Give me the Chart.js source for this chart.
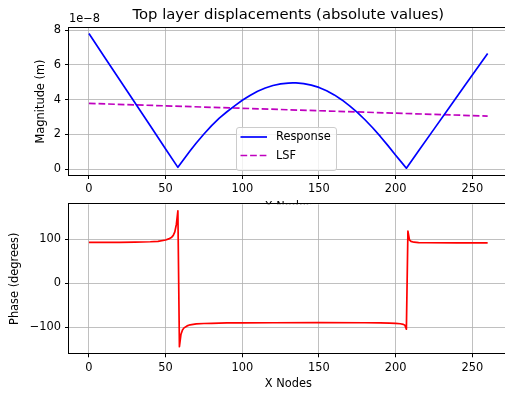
<!DOCTYPE html>
<html>
<head>
<meta charset="utf-8">
<script src="https://cdn.jsdelivr.net/npm/chart.js@4.4.1/dist/chart.umd.min.js"></script>
<style>
  html, body { margin: 0; padding: 0; background: #fff; }
  #wrap { position: relative; width: 505px; height: 394px; overflow: hidden; }
  #wrap canvas { position: absolute; left: 0; top: 0; }
</style>
</head>
<body>
<div id="wrap">
  <canvas id="magnitude-chart" width="512" height="394"></canvas>
  <canvas id="phase-chart" width="512" height="394"></canvas>
</div>
<script>
// Top layer response along the X nodes
const responseNodes = [0, 10, 20, 30, 40, 50, 58, 62, 66, 70, 75, 80, 85, 90, 95, 100,
  105, 110, 115, 120, 125, 130, 133, 135, 140, 145, 150, 155, 160, 165, 170, 175, 180,
  185, 190, 195, 200, 204, 207, 215, 225, 235, 245, 255, 260];
// magnitude in units of 1e-8 m
const responseMag = [7.80, 6.47, 5.14, 3.82, 2.49, 1.16, 0.10, 0.58, 1.05, 1.50, 2.02,
  2.50, 2.93, 3.30, 3.64, 3.96, 4.24, 4.48, 4.67, 4.81, 4.90, 4.95, 4.96, 4.96, 4.92,
  4.83, 4.70, 4.51, 4.27, 3.98, 3.64, 3.26, 2.84, 2.38, 1.88, 1.35, 0.80, 0.37, 0.05,
  1.05, 2.30, 3.55, 4.80, 6.03, 6.65];
const lsfNodes = [0, 260];
const lsfMag = [3.78, 3.05];

const phaseNodes = [0, 10, 20, 30, 40, 45, 50, 52, 54, 55, 56, 57, 58, 59, 60, 61, 62,
  64, 66, 70, 75, 80, 90, 100, 120, 150, 180, 190, 196, 200, 203, 205, 206, 207, 208,
  209, 210, 212, 215, 220, 240, 260];
const phaseDeg = [93.0, 93.1, 93.3, 93.7, 94.5, 95.4, 98.5, 101, 105, 109, 117, 134,
  165, -145, -117, -107, -102, -97.5, -95, -93, -92, -91.5, -90.8, -90.5, -90.3, -90.2,
  -90.3, -90.6, -91, -91.6, -92.6, -94, -96, -105, 119, 99, 95.5, 93.5, 92.6, 92.3,
  92.1, 92.0];

const xTicks = [0, 50, 100, 150, 200, 250];
const magTicks = [0, 2, 4, 6, 8];
const phaseTicks = [-100, 0, 100];

const FONT = 'DejaVu Sans';
const TICK_SIZE = 11.4;
const W = 512, H = 394;
const PAD_RIGHT = W - 507.6;

function toPoints(xs, ys) {
    return xs.map((x, i) => ({ x, y: ys[i] }));
}

function minusSign(v) {
    return String(v).replace('-', '\u2212');
}

function tickFont() {
    return { family: FONT, size: TICK_SIZE };
}

function gridStyle() {
    return { color: '#b0b0b0', lineWidth: 0.8, tickColor: '#000', tickLength: 4, tickWidth: 1 };
}

function xScale(height) {
    return {
        type: 'linear',
        min: -13,
        max: 273,
        afterBuildTicks: s => { s.ticks = xTicks.map(value => ({ value })); },
        afterFit: s => { s.height = height; },
        ticks: { font: tickFont(), color: '#000', padding: 3.5, maxRotation: 0, autoSkip: false },
        grid: gridStyle(),
        border: { display: false }
    };
}

function yScale(min, max, tickValues) {
    return {
        type: 'linear',
        min,
        max,
        afterBuildTicks: s => { s.ticks = tickValues.map(value => ({ value })); },
        afterFit: s => { s.width = 69; },
        ticks: { font: tickFont(), color: '#000', padding: 4, callback: minusSign },
        grid: gridStyle(),
        border: { display: false }
    };
}

// spines, labels and the legend box, matplotlib style
const framePlugin = {
    id: 'frame',
    beforeDraw(chart, args, opts) {
        if (!opts.fill) return;
        const a = chart.chartArea;
        const ctx = chart.ctx;
        ctx.save();
        ctx.fillStyle = '#fff';
        ctx.fillRect(a.left, a.top, a.right - a.left, a.bottom - a.top);
        ctx.restore();
    },
    afterDatasetsDraw(chart, args, opts) {
        const a = chart.chartArea;
        const ctx = chart.ctx;
        ctx.save();
        ctx.strokeStyle = '#000';
        ctx.lineWidth = 1;
        ctx.strokeRect(Math.round(a.left) - 0.5, Math.round(a.top) - 0.5,
            Math.round(a.right - a.left) + 1, Math.round(a.bottom - a.top) + 1);

        if (opts.legend) {
            const lg = opts.legend;
            ctx.beginPath();
            ctx.roundRect(lg.x + 0.5, lg.y + 0.5, lg.w, lg.h, 2.5);
            ctx.fillStyle = 'rgba(255,255,255,0.8)';
            ctx.fill();
            ctx.strokeStyle = '#cccccc';
            ctx.lineWidth = 1;
            ctx.stroke();

            ctx.font = TICK_SIZE + 'px "' + FONT + '"';
            ctx.textBaseline = 'middle';
            ctx.textAlign = 'left';
            chart.data.datasets.forEach((ds, i) => {
                const cy = lg.y + lg.rowTop + i * lg.rowGap;
                ctx.beginPath();
                ctx.setLineDash(ds.borderDash || []);
                ctx.strokeStyle = ds.borderColor;
                ctx.lineWidth = ds.borderWidth;
                ctx.moveTo(lg.x + 4.5, cy);
                ctx.lineTo(lg.x + 31, cy);
                ctx.stroke();
                ctx.setLineDash([]);
                ctx.fillStyle = '#000';
                ctx.fillText(ds.label, lg.x + 40, cy + 0.5);
            });
        }
        ctx.restore();
    },
    afterDraw(chart, args, opts) {
        const ctx = chart.ctx;
        (opts.texts || []).forEach(t => {
            ctx.save();
            ctx.font = t.size + 'px "' + FONT + '"';
            ctx.fillStyle = '#000';
            ctx.textAlign = t.align || 'center';
            ctx.textBaseline = 'alphabetic';
            ctx.translate(t.x, t.y);
            if (t.rotate) ctx.rotate(-Math.PI / 2);
            ctx.fillText(t.text, 0, 0);
            ctx.restore();
        });
    }
};

Chart.defaults.font.family = FONT;
Chart.defaults.color = '#000';

const centerX = (69 + 507.6) / 2;

new Chart(document.getElementById('magnitude-chart'), {
    type: 'line',
    data: {
        datasets: [{
            label: 'Response',
            data: toPoints(responseNodes, responseMag),
            borderColor: '#0000ff',
            borderWidth: 1.7,
            pointRadius: 0,
            tension: 0,
            borderJoinStyle: 'round'
        }, {
            label: 'LSF',
            data: toPoints(lsfNodes, lsfMag),
            borderColor: '#bf00bf',
            borderWidth: 1.7,
            borderDash: [6.7, 2.9],
            pointRadius: 0,
            tension: 0
        }]
    },
    options: {
        responsive: false,
        animation: false,
        events: [],
        devicePixelRatio: 1,
        layout: { padding: { top: 28, right: PAD_RIGHT, left: 0, bottom: 0 } },
        scales: {
            x: xScale(H - 175),
            y: yScale(-0.34, 8.12, magTicks)
        },
        plugins: {
            legend: { display: false },
            title: { display: false },
            tooltip: { enabled: false },
            frame: {
                legend: { x: 236, y: 127, w: 100, h: 43, rowTop: 10, rowGap: 18.5 },
                texts: [
                    { text: 'Top layer displacements (absolute values)', x: centerX, y: 18.5, size: 14.8 },
                    { text: '1e\u22128', x: 69, y: 21.5, size: TICK_SIZE, align: 'left' },
                    { text: 'Magnitude (m)', x: 43.6, y: 101.5, size: TICK_SIZE, rotate: true },
                    { text: 'X Nodes', x: centerX, y: 209.5, size: TICK_SIZE }
                ]
            }
        }
    },
    plugins: [framePlugin]
});

new Chart(document.getElementById('phase-chart'), {
    type: 'line',
    data: {
        datasets: [{
            label: 'Phase',
            data: toPoints(phaseNodes, phaseDeg),
            borderColor: '#ff0000',
            borderWidth: 1.7,
            pointRadius: 0,
            tension: 0,
            borderJoinStyle: 'round'
        }]
    },
    options: {
        responsive: false,
        animation: false,
        events: [],
        devicePixelRatio: 1,
        layout: { padding: { top: 204.3, right: PAD_RIGHT, left: 0, bottom: 0 } },
        scales: {
            x: xScale(H - 353.3),
            y: yScale(-160, 180, phaseTicks)
        },
        plugins: {
            legend: { display: false },
            title: { display: false },
            tooltip: { enabled: false },
            frame: {
                fill: true,
                texts: [
                    { text: 'Phase (degrees)', x: 18, y: 278.8, size: TICK_SIZE, rotate: true },
                    { text: 'X Nodes', x: centerX, y: 387, size: TICK_SIZE }
                ]
            }
        }
    },
    plugins: [framePlugin]
});
</script>
</body>
</html>
